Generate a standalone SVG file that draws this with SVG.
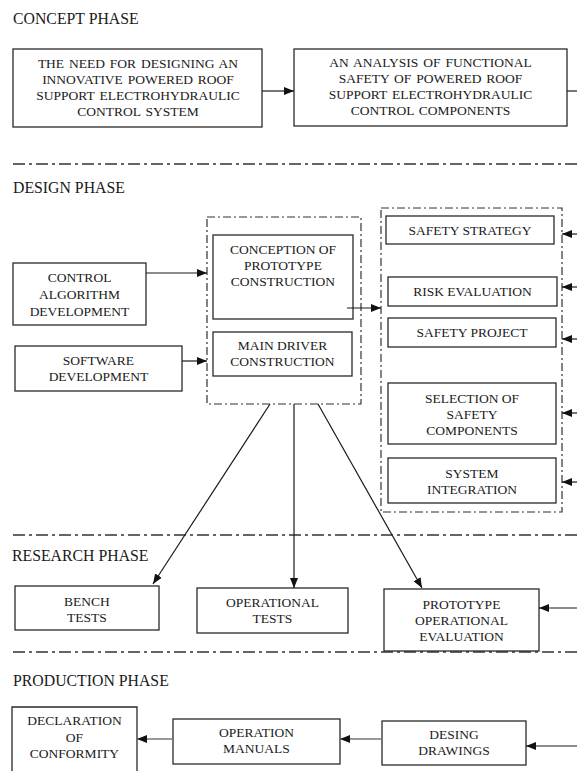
<svg xmlns="http://www.w3.org/2000/svg" width="577" height="771" viewBox="0 0 577 771">
  <style>
    .box { fill: #fff; stroke: #2a2a2a; stroke-width: 1.3; }
    .grp { fill: none; stroke: #333; stroke-width: 1.2; stroke-dasharray: 8 3 2 3; }
    .sep { fill: none; stroke: #333; stroke-width: 1.3; stroke-dasharray: 12 4 3 4; }
    .ln { fill: none; stroke: #1a1a1a; stroke-width: 1.2; }
    .lg { fill: none; stroke: #777; stroke-width: 1.6; }
    .t { font-size: 13.5px; text-anchor: middle; }
    .w { word-spacing: 1.5px; }
    .h { font-size: 15.8px; }
  </style>
  <defs>
    <marker id="ah" markerUnits="userSpaceOnUse" markerWidth="10" markerHeight="10" viewBox="0 0 10 10" refX="10" refY="5" orient="auto">
      <path d="M0,1 L10,5 L0,9 Z" fill="#111"/>
    </marker>
  </defs>

  <g font-family="'Liberation Serif', 'DejaVu Serif', 'Times New Roman', serif" fill="#1a1a1a">
  <!-- phase titles -->
  <text class="h" x="13" y="24">CONCEPT PHASE</text>
  <text class="h" x="13" y="193">DESIGN PHASE</text>
  <text class="h" x="12" y="561">RESEARCH PHASE</text>
  <text class="h" x="13" y="686">PRODUCTION PHASE</text>

  <!-- phase separators -->
  <g id="separators">
    <line class="sep" x1="13" y1="164" x2="577" y2="164"/>
    <line class="sep" x1="13" y1="535" x2="577" y2="535"/>
    <line class="sep" x1="13" y1="652" x2="577" y2="652"/>
  </g>

  <!-- dash-dot groupings -->
  <g id="groups">
    <rect class="grp" x="207" y="217" width="154" height="187"/>
    <rect class="grp" x="381" y="208" width="181" height="304"/>
  </g>

  <!-- concept phase -->
  <g id="need">
    <rect class="box" x="13" y="49" width="249" height="78"/>
    <text class="t w" x="138" y="68">THE NEED FOR DESIGNING AN</text>
    <text class="t w" x="138" y="84">INNOVATIVE POWERED ROOF</text>
    <text class="t w" x="138" y="100">SUPPORT ELECTROHYDRAULIC</text>
    <text class="t w" x="138" y="116">CONTROL SYSTEM</text>
  </g>
  <g id="analysis">
    <rect class="box" x="294" y="49" width="273" height="77"/>
    <text class="t w" x="430.5" y="67">AN ANALYSIS OF FUNCTIONAL</text>
    <text class="t w" x="430.5" y="83">SAFETY OF POWERED ROOF</text>
    <text class="t w" x="430.5" y="99">SUPPORT ELECTROHYDRAULIC</text>
    <text class="t w" x="430.5" y="115">CONTROL COMPONENTS</text>
  </g>

  <!-- design phase -->
  <g id="control-algorithm">
    <rect class="box" x="13" y="263" width="133" height="62"/>
    <text class="t" x="79.5" y="282">CONTROL</text>
    <text class="t" x="79.5" y="299">ALGORITHM</text>
    <text class="t" x="79.5" y="316">DEVELOPMENT</text>
  </g>
  <g id="software">
    <rect class="box" x="15" y="346" width="167" height="45"/>
    <text class="t" x="98.5" y="365">SOFTWARE</text>
    <text class="t" x="98.5" y="381">DEVELOPMENT</text>
  </g>
  <g id="conception">
    <rect class="box" x="213" y="235" width="140" height="84"/>
    <text class="t" x="283" y="254">CONCEPTION OF</text>
    <text class="t" x="283" y="270">PROTOTYPE</text>
    <text class="t" x="283" y="286">CONSTRUCTION</text>
  </g>
  <g id="main-driver">
    <rect class="box" x="213" y="332" width="139" height="44"/>
    <text class="t" x="282.5" y="350">MAIN DRIVER</text>
    <text class="t" x="282.5" y="366">CONSTRUCTION</text>
  </g>
  <g id="safety-strategy">
    <rect class="box" x="386" y="216" width="168" height="28"/>
    <text class="t" x="470" y="235">SAFETY STRATEGY</text>
  </g>
  <g id="risk-evaluation">
    <rect class="box" x="388" y="277" width="169" height="29"/>
    <text class="t" x="472.5" y="296">RISK EVALUATION</text>
  </g>
  <g id="safety-project">
    <rect class="box" x="388" y="318" width="168" height="29"/>
    <text class="t" x="472" y="337">SAFETY PROJECT</text>
  </g>
  <g id="selection">
    <rect class="box" x="388" y="383" width="168" height="61"/>
    <text class="t" x="472" y="403">SELECTION OF</text>
    <text class="t" x="472" y="419">SAFETY</text>
    <text class="t" x="472" y="435">COMPONENTS</text>
  </g>
  <g id="system-integration">
    <rect class="box" x="388" y="458" width="168" height="45"/>
    <text class="t" x="472" y="478">SYSTEM</text>
    <text class="t" x="472" y="494">INTEGRATION</text>
  </g>

  <!-- research phase -->
  <g id="bench-tests">
    <rect class="box" x="15" y="586" width="144" height="44"/>
    <text class="t" x="87" y="606">BENCH</text>
    <text class="t" x="87" y="622">TESTS</text>
  </g>
  <g id="operational-tests">
    <rect class="box" x="197" y="588" width="151" height="45"/>
    <text class="t" x="272.5" y="607">OPERATIONAL</text>
    <text class="t" x="272.5" y="623">TESTS</text>
  </g>
  <g id="prototype-evaluation">
    <rect class="box" x="384" y="589" width="155" height="62"/>
    <text class="t" x="461.5" y="609">PROTOTYPE</text>
    <text class="t" x="461.5" y="625">OPERATIONAL</text>
    <text class="t" x="461.5" y="641">EVALUATION</text>
  </g>

  <!-- production phase -->
  <g id="declaration">
    <path class="box" d="M12,771 V707 H137 V771"/>
    <text class="t" x="74.5" y="725">DECLARATION</text>
    <text class="t" x="74.5" y="742">OF</text>
    <text class="t" x="74.5" y="758">CONFORMITY</text>
  </g>
  <g id="operation-manuals">
    <rect class="box" x="173" y="719" width="167" height="45"/>
    <text class="t" x="256.5" y="737">OPERATION</text>
    <text class="t" x="256.5" y="753">MANUALS</text>
  </g>
  <g id="design-drawings">
    <rect class="box" x="382" y="721" width="144" height="44"/>
    <text class="t" x="454" y="739">DESING</text>
    <text class="t" x="454" y="755">DRAWINGS</text>
  </g>

  <!-- connectors -->
  <g id="connectors">
    <line class="ln" x1="262" y1="91" x2="294" y2="91" marker-end="url(#ah)"/>
    <line class="ln" x1="567" y1="91" x2="577" y2="91"/>
    <line class="ln" x1="146" y1="273" x2="207" y2="273" marker-end="url(#ah)"/>
    <line class="ln" x1="182" y1="361" x2="207" y2="361" marker-end="url(#ah)"/>
    <line class="ln" x1="347" y1="308" x2="381" y2="308" marker-end="url(#ah)"/>
    <line class="ln" x1="577" y1="234" x2="562" y2="234" marker-end="url(#ah)"/>
    <line class="ln" x1="577" y1="287" x2="562" y2="287" marker-end="url(#ah)"/>
    <line class="ln" x1="577" y1="339" x2="562" y2="339" marker-end="url(#ah)"/>
    <line class="ln" x1="577" y1="413" x2="562" y2="413" marker-end="url(#ah)"/>
    <line class="ln" x1="577" y1="482" x2="562" y2="482" marker-end="url(#ah)"/>
    <line class="ln" x1="270" y1="404" x2="153" y2="584" marker-end="url(#ah)"/>
    <line class="ln" x1="294" y1="404" x2="294" y2="588" marker-end="url(#ah)"/>
    <line class="ln" x1="318" y1="404" x2="422" y2="588" marker-end="url(#ah)"/>
    <line class="ln" x1="577" y1="608" x2="539" y2="608" marker-end="url(#ah)"/>
    <line class="lg" x1="173" y1="739" x2="137" y2="739" marker-end="url(#ah)"/>
    <line class="lg" x1="382" y1="739" x2="340" y2="739" marker-end="url(#ah)"/>
    <line class="ln" x1="577" y1="746" x2="526" y2="746" marker-end="url(#ah)"/>
  </g>
  </g>
</svg>
